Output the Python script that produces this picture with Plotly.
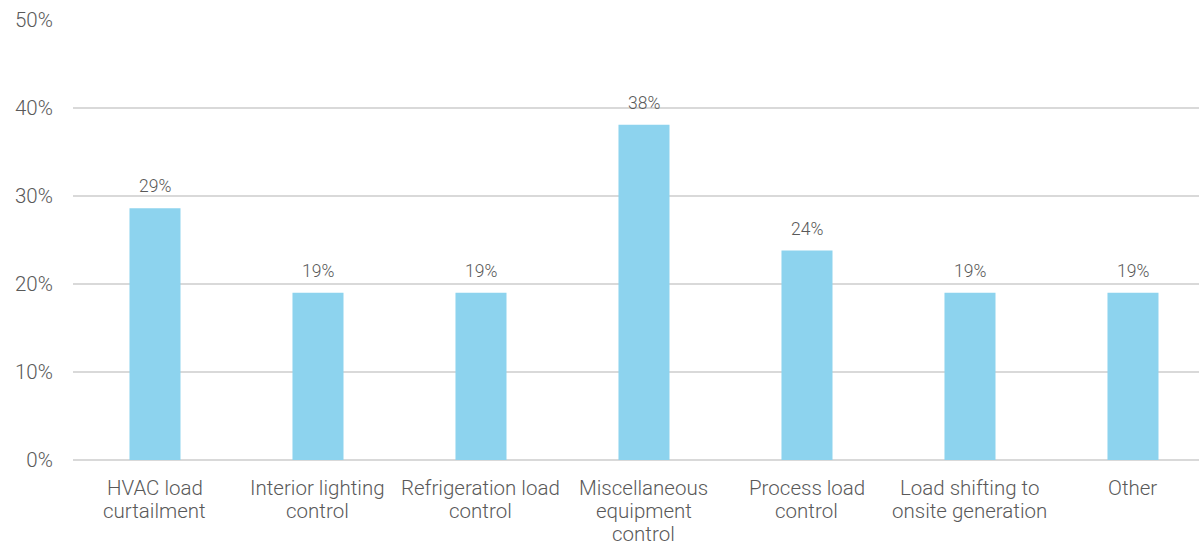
import plotly.graph_objects as go

categories = [
    "HVAC load<br>curtailment",
    "Interior lighting<br>control",
    "Refrigeration load<br>control",
    "Miscellaneous<br>equipment<br>control",
    "Process load<br>control",
    "Load shifting to<br>onsite generation",
    "Other",
]
shares = [28.6, 19.0, 19.0, 38.1, 23.8, 19.0, 19.0]
y_ticks = [0, 10, 20, 30, 40, 50]
y_tick_labels = ["0%", "10%", "20%", "30%", "40%", "50%"]

bar_color = "#8DD3EE"
text_color = "#595959"
font_family = "Roboto, 'Liberation Sans', Arial, sans-serif"

positions = list(range(len(categories)))

fig = go.Figure(
    go.Bar(
        x=positions,
        y=shares,
        width=0.313,
        marker=dict(color=bar_color, line=dict(width=0)),
        hoverinfo="skip",
    )
)

# value labels above each bar
for pos, val in zip(positions, shares):
    fig.add_annotation(
        x=pos,
        y=val,
        text=f"{val:.0f}%",
        showarrow=False,
        yanchor="bottom",
        yshift=10,
        font=dict(size=17.5, color=text_color, family=font_family, weight=300),
    )

# category labels under the axis, one annotation per line for tighter leading
first_line_offset = 27.5
line_step = 23
for pos, label in zip(positions, categories):
    for i, line in enumerate(label.split("<br>")):
        fig.add_annotation(
            x=pos,
            xref="x",
            y=0,
            yref="paper",
            text=line,
            showarrow=False,
            xanchor="center",
            yanchor="middle",
            yshift=-(first_line_offset + i * line_step),
            font=dict(size=20.5, color=text_color, family=font_family, weight=300),
        )

fig.update_layout(
    width=1199,
    height=545,
    margin=dict(l=73, r=0, t=20, b=85),
    plot_bgcolor="white",
    paper_bgcolor="white",
    showlegend=False,
    font=dict(family=font_family, color=text_color, size=20.5, weight=300),
)

fig.update_xaxes(
    range=[-0.503, 6.405],
    tickvals=positions,
    showticklabels=False,
    showgrid=False,
    showline=False,
    zeroline=False,
    automargin=False,
    ticks="",
)

fig.update_yaxes(
    range=[0, 50],
    tickvals=y_ticks,
    ticktext=y_tick_labels,
    automargin=False,
    showgrid=True,
    gridcolor="#D9D9D9",
    gridwidth=1.5,
    zeroline=True,
    zerolinecolor="#D9D9D9",
    zerolinewidth=1.5,
    ticks="outside",
    ticklen=15,
    tickcolor="rgba(0,0,0,0)",
    tickfont=dict(size=20.5, color=text_color, weight=300),
)

fig.write_html("out.html")
